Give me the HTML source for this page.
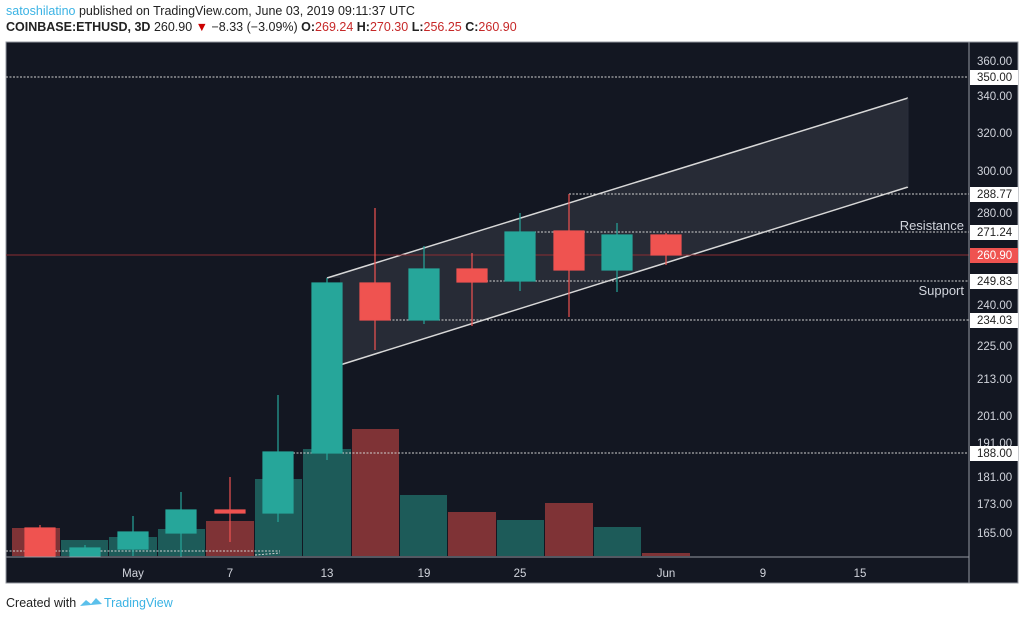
<!DOCTYPE html><html><head><meta charset="utf-8"><style>
body{margin:0;width:1024px;height:619px;background:#fff;font-family:"Liberation Sans",sans-serif;overflow:hidden}
.h{position:absolute;left:6px;font-size:12.5px;color:#222;white-space:nowrap}
</style></head><body>
<div class="h" style="top:4px"><span style="color:#3bb3e4">satoshilatino</span> published on TradingView.com, June 03, 2019 09:11:37 UTC</div>
<div class="h" style="top:20px"><b>COINBASE:ETHUSD, 3D</b> 260.90 <span style="color:#c00">▼</span> −8.33 (−3.09%) <b>O:</b><span style="color:#c62828">269.24</span> <b>H:</b><span style="color:#c62828">270.30</span> <b>L:</b><span style="color:#c62828">256.25</span> <b>C:</b><span style="color:#c62828">260.90</span></div>
<svg style="position:absolute;left:0;top:0" width="1024" height="619" font-family="Liberation Sans, sans-serif">
<rect x="6" y="42" width="1012" height="541" fill="#131722" stroke="#9598a1" stroke-width="1"/>
<!-- volume -->
<g>
<rect x="12" y="528" width="48" height="28" fill="#7f3336"/>
<rect x="61" y="540" width="47" height="16" fill="#1d5b59"/>
<rect x="109" y="537" width="48" height="19" fill="#1d5b59"/>
<rect x="158" y="529" width="47" height="27" fill="#1d5b59"/>
<rect x="206" y="521" width="48" height="35" fill="#7f3336"/>
<rect x="255" y="479" width="47" height="77" fill="#1d5b59"/>
<rect x="303" y="449" width="48" height="107" fill="#1d5b59"/>
<rect x="352" y="429" width="47" height="127" fill="#7f3336"/>
<rect x="400" y="495" width="47" height="61" fill="#1d5b59"/>
<rect x="448" y="512" width="48" height="44" fill="#7f3336"/>
<rect x="497" y="520" width="47" height="36" fill="#1d5b59"/>
<rect x="545" y="503" width="48" height="53" fill="#7f3336"/>
<rect x="594" y="527" width="47" height="29" fill="#1d5b59"/>
<rect x="642" y="553" width="48" height="3" fill="#7f3336"/>
</g>
<!-- channel -->
<polygon points="327,278 908,98 908,187 340,365 340,278" fill="#2a2e39" opacity="0.9"/>
<line x1="327" y1="278" x2="908" y2="98" stroke="#d8d8d8" stroke-width="1.5"/>
<line x1="340" y1="365" x2="908" y2="187" stroke="#d8d8d8" stroke-width="1.5"/>
<line x1="908" y1="98" x2="908" y2="187" stroke="#2a2e39"/>
<!-- level lines -->
<g stroke="#d0d0d0" stroke-dasharray="2,1.5" stroke-width="1">
<line x1="6" y1="77" x2="969" y2="77"/>
<line x1="569" y1="194" x2="969" y2="194"/>
<line x1="569" y1="194" x2="569" y2="200"/>
<line x1="520" y1="232" x2="969" y2="232"/>
<line x1="472" y1="281" x2="969" y2="281"/>
<line x1="375" y1="320" x2="969" y2="320"/>
<line x1="293" y1="453" x2="969" y2="453"/>
<line x1="6" y1="551" x2="280" y2="551"/>
<line x1="255" y1="555" x2="280" y2="553"/>
</g>
<line x1="6" y1="255" x2="969" y2="255" stroke="#8b2e33" stroke-width="1"/>
<!-- candles -->
<g stroke-width="1.2">
<g stroke="#ef5350" fill="#ef5350"><line x1="40" y1="525" x2="40" y2="556"/><rect x="25" y="528" width="30" height="28"/></g>
<g stroke="#26a69a" fill="#26a69a"><line x1="85" y1="545" x2="85" y2="556"/><rect x="70" y="548" width="30" height="8"/></g>
<g stroke="#26a69a" fill="#26a69a"><line x1="133" y1="516" x2="133" y2="556"/><rect x="118" y="532" width="30" height="17"/></g>
<g stroke="#26a69a" fill="#26a69a"><line x1="181" y1="492" x2="181" y2="557"/><rect x="166" y="510" width="30" height="23"/></g>
<g stroke="#ef5350" fill="#ef5350"><line x1="230" y1="477" x2="230" y2="542"/><rect x="215" y="510" width="30" height="3"/></g>
<g stroke="#26a69a" fill="#26a69a"><line x1="278" y1="395" x2="278" y2="522"/><rect x="263" y="452" width="30" height="61"/></g>
<g stroke="#26a69a" fill="#26a69a"><line x1="327" y1="278" x2="327" y2="460"/><rect x="312" y="283" width="30" height="170"/></g>
<g stroke="#ef5350" fill="#ef5350"><line x1="375" y1="208" x2="375" y2="350"/><rect x="360" y="283" width="30" height="37"/></g>
<g stroke="#26a69a" fill="#26a69a"><line x1="424" y1="246" x2="424" y2="324"/><rect x="409" y="269" width="30" height="51"/></g>
<g stroke="#ef5350" fill="#ef5350"><line x1="472" y1="253" x2="472" y2="326"/><rect x="457" y="269" width="30" height="13"/></g>
<g stroke="#26a69a" fill="#26a69a"><line x1="520" y1="213" x2="520" y2="291"/><rect x="505" y="232" width="30" height="49"/></g>
<g stroke="#ef5350" fill="#ef5350"><line x1="569" y1="194" x2="569" y2="317"/><rect x="554" y="231" width="30" height="39"/></g>
<g stroke="#26a69a" fill="#26a69a"><line x1="617" y1="223" x2="617" y2="292"/><rect x="602" y="235" width="30" height="35"/></g>
<g stroke="#ef5350" fill="#ef5350"><line x1="666" y1="233" x2="666" y2="265"/><rect x="651" y="235" width="30" height="20"/></g>
</g>
<text x="964" y="230" fill="#d1d4dc" font-size="13" text-anchor="end">Resistance</text>
<text x="964" y="295" fill="#d1d4dc" font-size="13" text-anchor="end">Support</text>
<!-- axes -->
<line x1="969" y1="42" x2="969" y2="583" stroke="#9598a1"/>
<line x1="6" y1="557" x2="969" y2="557" stroke="#9598a1"/>
<g fill="#d1d4dc" font-size="11.5">
<text x="977" y="65">360.00</text><text x="977" y="100">340.00</text><text x="977" y="137">320.00</text><text x="977" y="175">300.00</text><text x="977" y="217">280.00</text><text x="977" y="309">240.00</text><text x="977" y="350">225.00</text><text x="977" y="383">213.00</text><text x="977" y="420">201.00</text><text x="977" y="447">191.00</text><text x="977" y="481">181.00</text><text x="977" y="508">173.00</text><text x="977" y="537">165.00</text>
</g>
<g font-size="11.5">
<rect x="970" y="70" width="48" height="15" fill="#fff"/><text x="977" y="81" fill="#222">350.00</text>
<rect x="970" y="187" width="48" height="15" fill="#fff"/><text x="977" y="198" fill="#222">288.77</text>
<rect x="970" y="225" width="48" height="15" fill="#fff"/><text x="977" y="236" fill="#222">271.24</text>
<rect x="970" y="248" width="48" height="15" fill="#ef5350"/><text x="977" y="259" fill="#fff">260.90</text>
<rect x="970" y="274" width="48" height="15" fill="#fff"/><text x="977" y="285" fill="#222">249.83</text>
<rect x="970" y="313" width="48" height="15" fill="#fff"/><text x="977" y="324" fill="#222">234.03</text>
<rect x="970" y="446" width="48" height="15" fill="#fff"/><text x="977" y="457" fill="#222">188.00</text>
</g>
<g fill="#d1d4dc" font-size="11.5" text-anchor="middle">
<text x="133" y="577">May</text><text x="230" y="577">7</text><text x="327" y="577">13</text><text x="424" y="577">19</text><text x="520" y="577">25</text><text x="666" y="577">Jun</text><text x="763" y="577">9</text><text x="860" y="577">15</text>
</g>
<text x="6" y="607" font-size="12.5" fill="#222">Created with</text>
<path d="M80 606 l6 -6 l5 4 l5 -6 l6 6 z" fill="#5bc0eb"/>
<text x="104" y="607" font-size="12.5" fill="#3bb3e4">TradingView</text>
</svg>
</body></html>
